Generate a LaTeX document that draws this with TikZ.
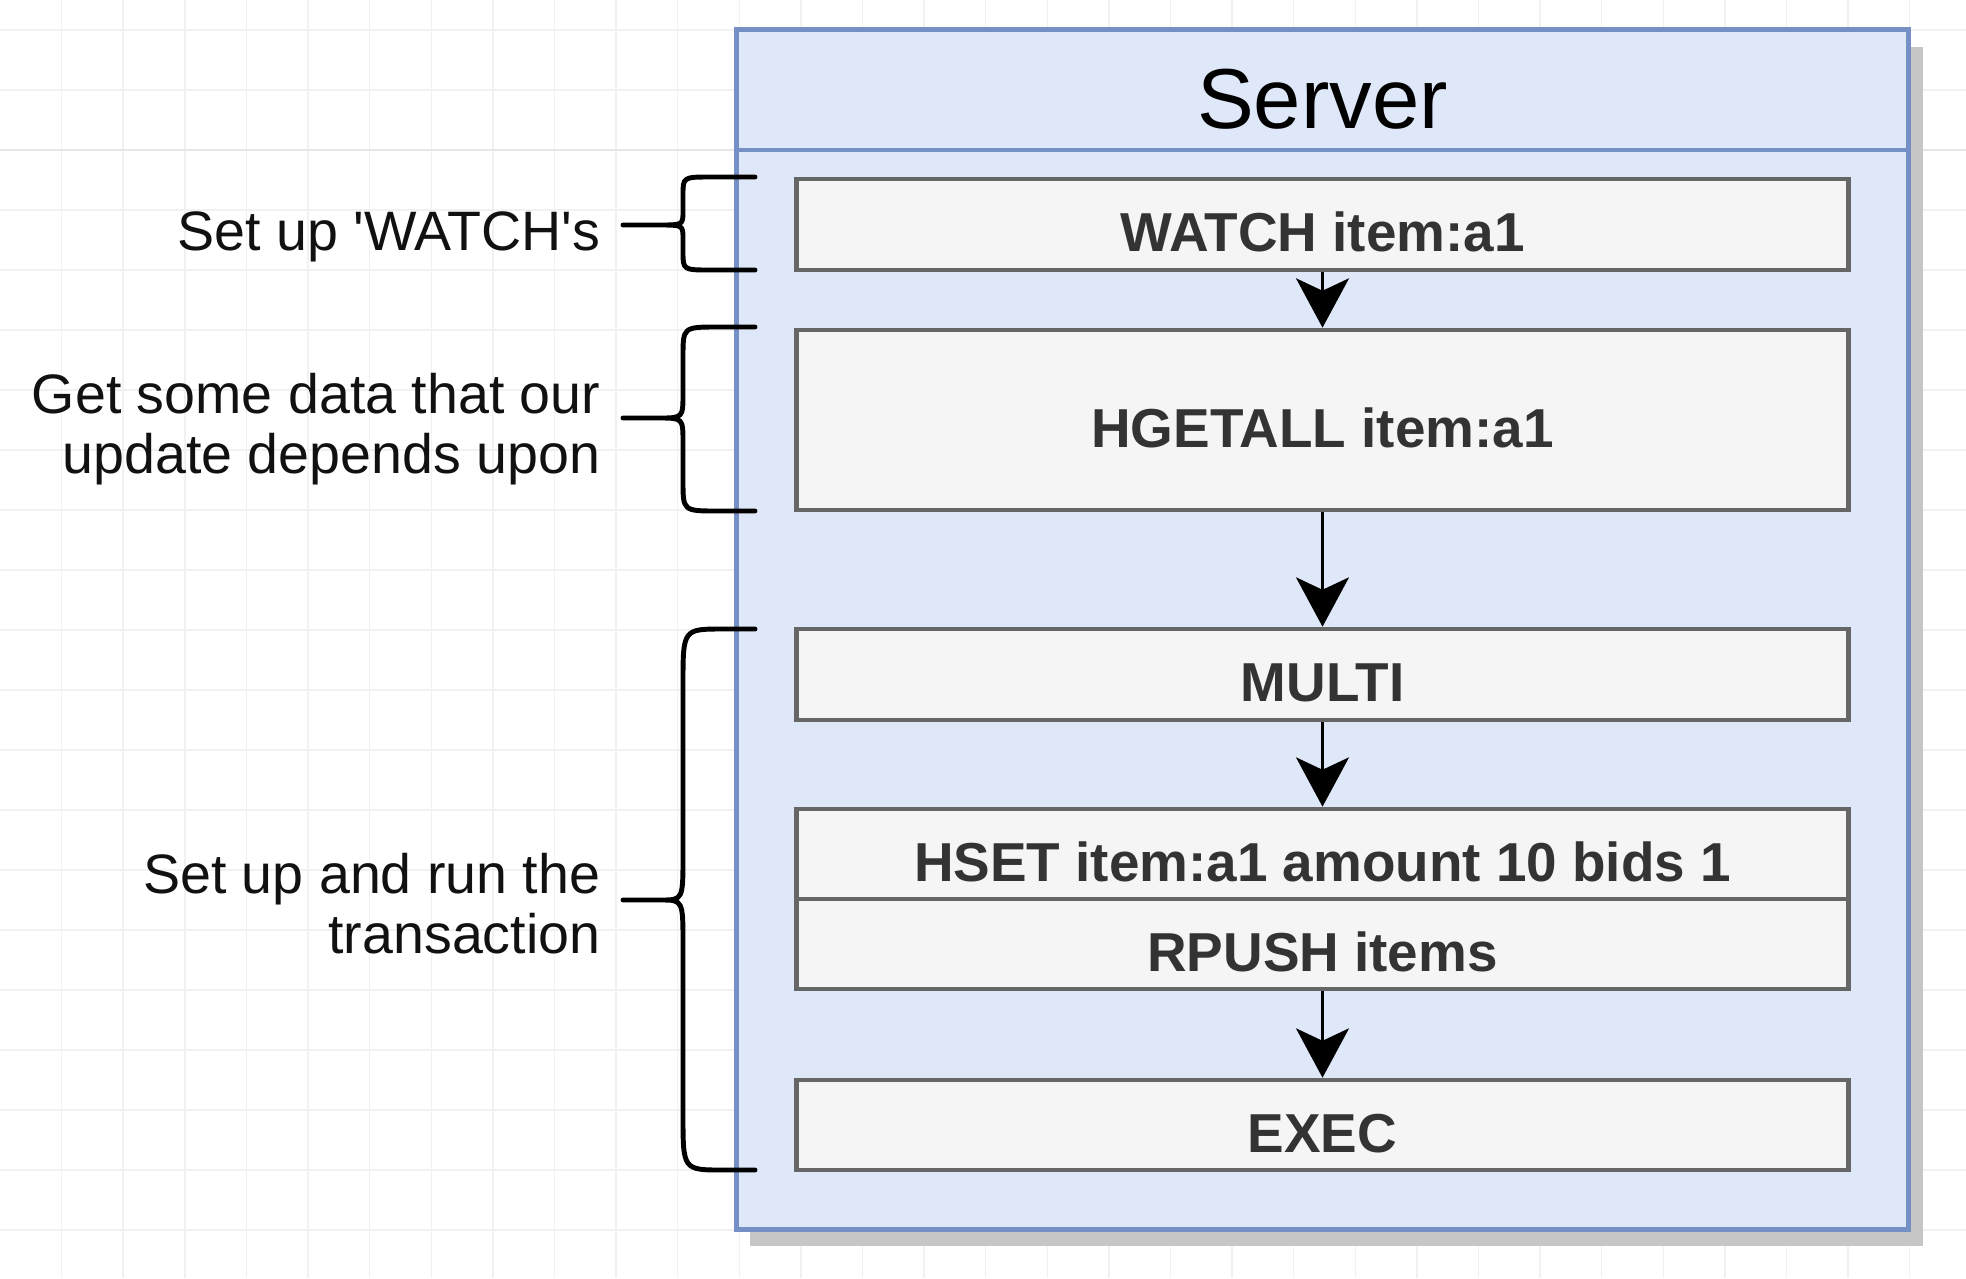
\documentclass[tikz,border=0pt]{standalone}
\usepackage{fontspec}
\setmainfont{Liberation Sans}
\usetikzlibrary{arrows.meta}
\definecolor{gridc}{HTML}{F1F1F1}
\definecolor{gridd}{HTML}{E6E6E6}
\definecolor{srvfill}{HTML}{DFE8F8}
\definecolor{srvline}{HTML}{7490C4}
\definecolor{boxfill}{HTML}{F5F5F5}
\definecolor{boxline}{HTML}{666666}
\definecolor{boxtext}{HTML}{333333}
\definecolor{shadowc}{HTML}{C6C6C6}
\definecolor{lbltext}{HTML}{111111}
\begin{document}
\begin{tikzpicture}[x=0.01cm,y=-0.01cm,
  cmdbox/.style={draw=boxline, fill=boxfill, line width=1.3pt,
    minimum width=10.51cm, minimum height=#1, inner sep=0pt,
    font=\fontsize{15.6pt}{18pt}\selectfont\bfseries, text=boxtext,
    text height=15.6pt, text depth=0pt},
  lbl/.style={font=\fontsize{15.8pt}{17.07pt}\selectfont, text=lbltext,
    inner sep=0pt, align=right, anchor=east},
  flow/.style={-{Stealth[length=14pt,width=15pt,inset=3.5pt]}, line width=1.1pt, black},
  bracel/.style={line width=1.4pt, black, line join=round, line cap=round}]
% canvas
\useasboundingbox (0,0) rectangle (1966,1278);
\fill[white] (0,0) rectangle (1966,1278);
% grid
\foreach \i in {1,...,31} \draw[gridc, line width=0.4pt] (61.6*\i,0) -- (61.6*\i,1278);
\foreach \j in {0,...,20} \draw[gridc, line width=0.4pt] (0,30+60*\j) -- (1966,30+60*\j);
\draw[gridd, line width=0.5pt] (0,150) -- (1966,150);
% server container
\fill[shadowc] (750,47) rectangle (1923,1246);
\node[draw=srvline, fill=srvfill, line width=1.3pt, minimum width=11.71cm, minimum height=11.99cm, inner sep=0pt] (srv) at (1322.5,629.5) {};
\draw[srvline, line width=1.3pt] (737,150) -- (1908,150);
\node[font=\fontsize{24.2pt}{28pt}\selectfont, anchor=base, inner sep=0pt] (srvtitle) at (1322.5,128) {Server};
% braces
\draw[bracel] (755,177) -- (711,177) .. controls (683,177) .. (683,195) -- (683,211)
  .. controls (683,225) .. (659,225) -- (623,225) -- (659,225)
  .. controls (683,225) .. (683,239) -- (683,252) .. controls (683,270) .. (711,270) -- (755,270);
\draw[bracel] (755,327) -- (718,327) .. controls (683,327) .. (683,357) -- (683,393)
  .. controls (683,418) .. (659,418) -- (623,418) -- (659,418)
  .. controls (683,418) .. (683,443) -- (683,481) .. controls (683,511) .. (718,511) -- (755,511);
\draw[bracel] (755,629) -- (723,629) .. controls (683,629) .. (683,684) -- (683,855)
  .. controls (683,900) .. (661,900) -- (623,900) -- (661,900)
  .. controls (683,900) .. (683,945) -- (683,1115) .. controls (683,1170) .. (723,1170) -- (755,1170);
% labels
\node[lbl] (l1) at (601,237) {Set up \textquotesingle WATCH\textquotesingle s};
\node[lbl] (l2) at (601,429) {Get some data that our\\update depends upon};
\node[lbl] (l3) at (601,904) {Set up and run the\\transaction};
% command boxes
\node[cmdbox=0.91cm] (w) at (1322.5,224.5) {WATCH item:a1};
\node[cmdbox=1.80cm] (hg) at (1322.5,420) {HGETALL item:a1};
\node[cmdbox=0.91cm] (mu) at (1322.5,674.5) {MULTI};
\node[cmdbox=0.90cm] (hs) at (1322.5,854) {HSET item:a1 amount 10 bids 1};
\node[cmdbox=0.90cm] (rp) at (1322.5,944) {RPUSH items};
\node[cmdbox=0.90cm] (ex) at (1322.5,1125) {EXEC};
% arrows
\draw[flow] (w.south) -- (hg.north);
\draw[flow] (hg.south) -- (mu.north);
\draw[flow] (mu.south) -- (hs.north);
\draw[flow] (rp.south) -- (ex.north);
\end{tikzpicture}
\end{document}
